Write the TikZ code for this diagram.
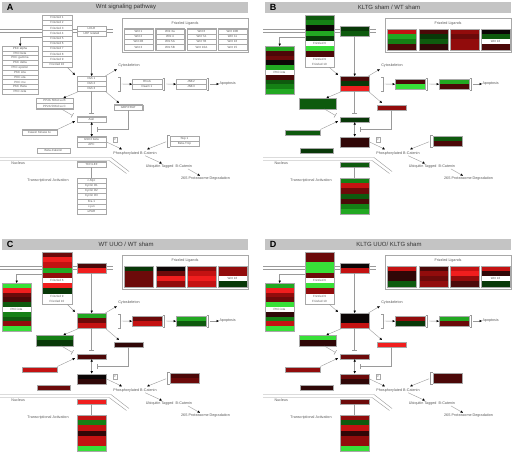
\documentclass[tikz,border=0pt]{standalone}
\usepackage{fontspec}
\setmainfont{Liberation Sans}
\usetikzlibrary{arrows.meta}
\pgfdeclarelayer{bg}
\pgfsetlayers{bg,main}
\definecolor{g1}{HTML}{38E038}
\definecolor{g2}{HTML}{22A822}
\definecolor{g3}{HTML}{158015}
\definecolor{g4}{HTML}{0E5A0E}
\definecolor{g5}{HTML}{083808}
\definecolor{k}{HTML}{0C0606}
\definecolor{r5}{HTML}{300707}
\definecolor{r4}{HTML}{4C0808}
\definecolor{r3}{HTML}{6C0A0A}
\definecolor{r2}{HTML}{920C0C}
\definecolor{r1}{HTML}{C41212}
\definecolor{r0}{HTML}{F01E1E}
\definecolor{w}{HTML}{FFFFFF}
\definecolor{ln}{HTML}{9A9A9A}
\definecolor{boxln}{HTML}{A8A8A8}
\definecolor{hdr}{HTML}{C4C4C4}
\definecolor{txt}{HTML}{5A5A5A}
\definecolor{ttxt}{HTML}{333333}
\tikzset{
  conn/.style={draw=ln, line width=0.4pt},
  arr/.style={conn, -{Triangle[length=2.4pt,width=2.2pt,color=black]}},
  darr/.style={conn, {Triangle[length=2.4pt,width=2.2pt,color=black]}-{Triangle[length=2.4pt,width=2.2pt,color=black]}},
  inh/.style={conn, -{Bar[width=5pt,line width=0.5pt]}},
  rowsep/.style={},
  rowtxt/.style={font=\fontsize{3}{3.4}\selectfont, text=txt, inner sep=0},
  boxframe/.style={draw=boxln, line width=0.35pt, inner sep=0},
  lbl/.style={font=\fontsize{3.7}{4.2}\selectfont, text=txt, inner sep=0.3pt},
  ttlst/.style={font=\fontsize{6}{7}\selectfont, text=ttxt, inner sep=0},
  panellet/.style={font=\bfseries\fontsize{9}{10}\selectfont, text=black, inner sep=0},
}
\newcommand{\gbox}[7]{%
  \foreach \bxc/\bxt [count=\bxi] in {#7} {%
    \path[fill=\bxc, rowsep] (#2,{#3+(\bxi-1)*#5}) rectangle ++(#4,#5);
    \node[rowtxt] at ({#2+#4/2},{#3+(\bxi-0.5)*#5}) {\bxt};
  }%
  \node[boxframe, minimum width=#4pt, minimum height={#6*#5pt}, anchor=north west] (#1) at (#2,#3) {};
}
\newcommand{\panelframe}[3]{%
  \path[fill=hdr] (2,2) rectangle (248,12.5);
  \node[panellet] (#1let) at (10,7.3) {#2};
  \node[ttlst] (#1ttl) at (126,7.3) {#3};
  \draw[conn] (0,29.5) -- (113,29.5) (0,32.5) -- (113,32.5);
  \draw[conn] (0,157.5) -- (111,157.5) -- (129,171.5) (0,160.5) -- (109,160.5) -- (126.5,173.5);
  \node[boxframe, minimum width=126pt, minimum height=34pt, anchor=north west] (#1lig) at (122,18) {};
  \node[lbl] (#1ligt) at (185,23.5) {Frizzled Ligands};
}
\newcommand{\panelwires}[1]{%
  \node[lbl] (#1cyto) at (129,66) {Cytoskeleton};
  \node[lbl, anchor=west] (#1apo) at (219,84) {Apoptosis};
  \node[lbl] (#1phos) at (135,153.5) {Phosphorylated B-Catenin};
  \node[lbl] (#1ubi) at (169,166.7) {Ubiquitin Tagged\ \ B-Catenin};
  \node[lbl] (#1deg) at (205.5,179) {26S Proteasome Degradation};
  \node[lbl, anchor=west] (#1nuc) at (11,162.8) {Nucleus};
  \node[lbl] (#1ta) at (48,181) {Transcriptional Activation};
  \node[boxframe, font=\fontsize{2.5}{3}\selectfont, text=txt, minimum width=3.6pt, minimum height=5pt] (#1pb) at (115.2,139.2) {P};
  \coordinate (#1b1) at (120,84);
  \coordinate (#1b2) at (164.5,84);
  \coordinate (#1b3) at (208.5,84);
  \coordinate (#1b4) at (167.5,141.2);
  \draw[conn] (#1b1) ++(-2,-7) -- ++(2,0) -- ++(0,14) -- ++(-2,0);
  \draw[conn] (#1b2) ++(-2,-6) -- ++(2,0) -- ++(0,12) -- ++(-2,0);
  \draw[conn] (#1b3) ++(-2,-6) -- ++(2,0) -- ++(0,12) -- ++(-2,0);
  \draw[conn] (#1b4) ++(2,-6) -- ++(-2,0) -- ++(0,12) -- ++(2,0);
  \draw[arr] ([xshift=-5pt]#1fz.south east) -- ([xshift=-2pt,yshift=1pt]#1dsh.north west);
  \draw[arr] (#1lrp.south) -- (#1dsh.north);
  \draw[arr] ([yshift=-22.5pt]#1fz.north west) -| (#1pkc.north);
  \draw[arr] ([xshift=-1pt]#1dsh.north east) -- ([xshift=-1pt,yshift=-1pt]#1cyto.south west);
  \draw[arr, shorten <=1.5pt] (#1b1) -- (#1rho.west);
  \draw[arr, shorten <=1.5pt] (#1b2) -- (#1jnk.west);
  \draw[arr, shorten <=1.5pt] (#1b3) -- (#1apo.west);
  \draw[arr] ([xshift=2pt]#1dsh.south west) -- ([xshift=-10pt]#1pp.north east);
  \draw[arr] ([xshift=-1pt]#1dsh.south east) -- ([xshift=5pt,yshift=1.5pt]#1gbp.north west);
  \draw[inh] (#1dsh.south) -- ([yshift=3.5pt]#1axin.north);
  \draw[inh] ([xshift=-12pt]#1pp.south east) -- ([xshift=-4.5pt,yshift=1pt]#1axin.north west);
  \draw[arr] (#1ck.north east) -- ([xshift=-2pt,yshift=1pt]#1axin.south west);
  \draw[inh] (#1gbp.south) |- ([xshift=-9pt,yshift=-7pt]#1axin.south east);
  \draw[darr] (#1axin.south) -- (#1gsk.north);
  \draw[arr] (#1gsk.east) -- ([xshift=9pt,yshift=2pt]#1phos.north west);
  \draw[arr, shorten <=1.5pt] (#1b4) -- ([xshift=-10pt,yshift=2pt]#1phos.north east);
  \draw[arr] ([xshift=-12pt]#1phos.south east) -- ([xshift=-7pt,yshift=1pt]#1ubi.north);
  \draw[arr] ([xshift=19pt]#1ubi.south) -- ([xshift=-5.5pt,yshift=1pt]#1deg.north);
  \draw[conn] (#1tcf.south) -- (#1tg.north);
  \begin{pgfonlayer}{bg}
    \draw[inh, rounded corners=2.5pt] (#1gsk.west) -- ++(-24,0) -- ++(0,28) -- ++(14,4) -- ([xshift=-2pt,yshift=-7pt]#1tcf.south);
  \end{pgfonlayer}
}
\begin{document}
\begin{tikzpicture}[x=1pt,y=-1pt]
\useasboundingbox (0,0) rectangle (512,453);
\fill[white] (0,0) rectangle (512,453);
% ---------------- Panel A
\begin{scope}[rowsep/.style={draw=boxln, line width=0.3pt}]
\panelframe{A}{A}{Wnt signaling pathway}
\gbox{Afz}{42}{15}{30}{5.2}{10}{w/Frizzled 1,w/Frizzled 2,w/Frizzled 3,w/Frizzled 4,w/Frizzled 5,w/Frizzled 6,w/Frizzled 7,w/Frizzled 8,w/Frizzled 9,w/Frizzled 10}
\gbox{Alrp}{77}{26}{29}{5}{2}{w/LDLR,w/LRP related}
\gbox{Alc1}{124}{28.5}{29}{5.3}{4}{w/Wnt 1,w/Wnt 2,w/Wnt 2B,w/Wnt 3}
\gbox{Alc2}{155.5}{28.5}{29}{5.3}{4}{w/Wnt 3a,w/Wnt 4,w/Wnt 5A,w/Wnt 5B}
\gbox{Alc3}{187}{28.5}{29}{5.3}{4}{w/Wnt 6,w/Wnt 7A,w/Wnt 7B,w/Wnt 10A}
\gbox{Alc4}{218}{28.5}{29}{5.3}{4}{w/Wnt 10B,w/Wnt 11,w/Wnt 16,w/Wnt 15}
\gbox{Apkc}{2}{46}{36}{4.8}{10}{w/PKC alpha,w/PKC beta,w/PKC gamma,w/PKC delta,w/PKC epsilon,w/PKC iota,w/PKC eta,w/PKC mu,w/PKC theta,w/PKC zeta}
\gbox{Adsh}{77}{76}{29}{5}{3}{w/Dsh 1,w/Dsh 2,w/Dsh 3}
\gbox{Arho}{132}{79}{30}{5}{2}{w/RhoA,w/Daam 1}
\gbox{Ajnk}{176}{79}{30}{5}{2}{w/JNK2,w/JNK3}
\gbox{App}{36}{98}{37}{5.3}{2}{w/PP2A 56Kd su B,w/PP2A 56Kd su C}
\gbox{Agbp}{114}{104.5}{28.5}{5.5}{1}{w/{GBP/FRAT}}
\gbox{Aaxin}{77}{116.5}{29}{5.3}{1}{w/Axin}
\gbox{Ack}{22}{129.5}{35}{5.3}{1}{w/Casein Kinase 1ε}
\gbox{Agsk}{77}{136.5}{29}{5.2}{2}{w/GSK3 beta,w/APC}
\gbox{Askp}{170}{136}{29}{5.2}{2}{w/Skp 1,w/Beta-Trcp}
\gbox{Abcat}{37}{148}{33}{5}{1}{w/Beta-Catenin}
\gbox{Atcf}{77}{161.5}{29}{5.2}{1}{w/{TCF/LEF}}
\gbox{Atg}{77}{178}{29}{5.2}{7}{w/c-Myc,w/Cyclin D1,w/Cyclin D2,w/Cyclin D3,w/Fra-1,w/c-jun,w/uPAR}
\panelwires{A}
\end{scope}
% ---------------- Panel B
\begin{scope}[shift={(263,0)}]
\panelframe{B}{B}{KLTG sham / WT sham}
\gbox{Bfz}{42}{15}{29}{5.2}{10}{g4/{},g3/{},k/{},g2/{},g5/{},w/Frizzled 6,g1/{},r4/{},w/Frizzled 9,w/Frizzled 10}
\gbox{Blrp}{77}{26}{29}{5}{2}{g5/{},g4/{}}
\gbox{Blc1}{124}{28.5}{29}{5.3}{4}{r1/{},g2/{},g3/{},r4/{}}
\gbox{Blc2}{155.5}{28.5}{29}{5.3}{4}{r4/{},g5/{},g4/{},r5/{}}
\gbox{Blc3}{187}{28.5}{29}{5.3}{4}{r2/{},r3/{},r2/{},r2/{}}
\gbox{Blc4}{218}{28.5}{29}{5.3}{4}{k/{},g4/{},w/Wnt 16,r4/{}}
\gbox{Bpkc}{2}{46}{29}{4.8}{10}{g2/{},r4/{},r3/{},k/{},g2/{},w/PKC iota,r4/{},g4/{},g3/{},g2/{}}
\gbox{Bdsh}{77}{76}{29}{5}{3}{r4/{},g5/{},r0/{}}
\gbox{Brho}{132}{79}{30}{5}{2}{r4/{},g1/{}}
\gbox{Bjnk}{176}{79}{30}{5}{2}{g2/{},r4/{}}
\gbox{Bpp}{36}{98}{37}{5.3}{2}{g4/{},g4/{}}
\gbox{Bgbp}{114}{104.5}{28.5}{5.5}{1}{r2/{}}
\gbox{Baxin}{77}{116.5}{29}{5.3}{1}{g5/{}}
\gbox{Bck}{22}{129.5}{35}{5.3}{1}{g4/{}}
\gbox{Bgsk}{77}{136.5}{29}{5.2}{2}{r5/{},r5/{}}
\gbox{Bskp}{170}{136}{29}{5.2}{2}{g4/{},r4/{}}
\gbox{Bbcat}{37}{148}{33}{5}{1}{g5/{}}
\gbox{Btcf}{77}{161.5}{29}{5.2}{1}{g4/{}}
\gbox{Btg}{77}{178}{29}{5.2}{7}{g3/{},r1/{},r3/{},g4/{},r4/{},g3/{},g2/{}}
\panelwires{B}
\end{scope}
% ---------------- Panel C
\begin{scope}[shift={(0,237)}]
\panelframe{C}{C}{WT UUO / WT sham}
\gbox{Cfz}{42}{15}{30}{5.2}{10}{r3/{},r0/{},r1/{},g2/{},r2/{},w/Frizzled 6,r0/{},g5/{},w/Frizzled 9,w/Frizzled 10}
\gbox{Clrp}{77}{26}{29}{5}{2}{r4/{},r0/{}}
\gbox{Clc1}{124}{28.5}{29}{5.3}{4}{g5/{},r3/{},r3/{},r3/{}}
\gbox{Clc2}{155.5}{28.5}{29}{5.3}{4}{k/{},r3/{},r0/{},r2/{}}
\gbox{Clc3}{187}{28.5}{29}{5.3}{4}{r2/{},r1/{},r0/{},r1/{}}
\gbox{Clc4}{218}{28.5}{29}{5.3}{4}{r2/{},r2/{},w/Wnt 16,g5/{}}
\gbox{Cpkc}{2}{46}{29}{4.8}{10}{g1/{},r0/{},r3/{},r4/{},g4/{},w/PKC iota,g3/{},g4/{},r2/{},g1/{}}
\gbox{Cdsh}{77}{76}{29}{5}{3}{g2/{},r3/{},r1/{}}
\gbox{Crho}{132}{79}{30}{5}{2}{r3/{},r1/{}}
\gbox{Cjnk}{176}{79}{30}{5}{2}{g2/{},g4/{}}
\gbox{Cpp}{36}{98}{37}{5.3}{2}{g3/{},g5/{}}
\gbox{Cgbp}{114}{104.5}{28.5}{5.5}{1}{r5/{}}
\gbox{Caxin}{77}{116.5}{29}{5.3}{1}{r4/{}}
\gbox{Cck}{22}{129.5}{35}{5.3}{1}{r1/{}}
\gbox{Cgsk}{77}{136.5}{29}{5.2}{2}{k/{},r5/{}}
\gbox{Cskp}{170}{136}{29}{5.2}{2}{r4/{},r3/{}}
\gbox{Cbcat}{37}{148}{33}{5}{1}{r3/{}}
\gbox{Ctcf}{77}{161.5}{29}{5.2}{1}{r0/{}}
\gbox{Ctg}{77}{178}{29}{5.2}{7}{r1/{},g3/{},r1/{},r5/{},r1/{},r1/{},g1/{}}
\panelwires{C}
\end{scope}
% ---------------- Panel D
\begin{scope}[shift={(263,237)}]
\panelframe{D}{D}{KLTG UUO/ KLTG sham}
\gbox{Dfz}{42}{15}{29}{5.2}{10}{r3/{},r3/{},g1/{},g1/{},r3/{},w/Frizzled 6,g1/{},r2/{},w/Frizzled 9,w/Frizzled 10}
\gbox{Dlrp}{77}{26}{29}{5}{2}{k/{},r1/{}}
\gbox{Dlc1}{124}{28.5}{29}{5.3}{4}{r1/{},r5/{},r5/{},g4/{}}
\gbox{Dlc2}{155.5}{28.5}{29}{5.3}{4}{r4/{},r2/{},r3/{},r2/{}}
\gbox{Dlc3}{187}{28.5}{29}{5.3}{4}{r1/{},r0/{},r2/{},r4/{}}
\gbox{Dlc4}{218}{28.5}{29}{5.3}{4}{r1/{},r5/{},w/Wnt 16,g5/{}}
\gbox{Dpkc}{2}{46}{29}{4.8}{10}{g2/{},r0/{},r2/{},r3/{},g1/{},w/PKC iota,r5/{},g3/{},r1/{},g1/{}}
\gbox{Ddsh}{77}{76}{29}{5}{3}{k/{},k/{},r1/{}}
\gbox{Drho}{132}{79}{30}{5}{2}{r2/{},g5/{}}
\gbox{Djnk}{176}{79}{30}{5}{2}{g2/{},r3/{}}
\gbox{Dpp}{36}{98}{37}{5.3}{2}{g1/{},r5/{}}
\gbox{Dgbp}{114}{104.5}{28.5}{5.5}{1}{r0/{}}
\gbox{Daxin}{77}{116.5}{29}{5.3}{1}{r3/{}}
\gbox{Dck}{22}{129.5}{35}{5.3}{1}{r2/{}}
\gbox{Dgsk}{77}{136.5}{29}{5.2}{2}{r3/{},r5/{}}
\gbox{Dskp}{170}{136}{29}{5.2}{2}{r4/{},r4/{}}
\gbox{Dbcat}{37}{148}{33}{5}{1}{r5/{}}
\gbox{Dtcf}{77}{161.5}{29}{5.2}{1}{r3/{}}
\gbox{Dtg}{77}{178}{29}{5.2}{7}{r2/{},g4/{},r1/{},r5/{},r2/{},r2/{},g1/{}}
\panelwires{D}
\end{scope}
\end{tikzpicture}
\end{document}
